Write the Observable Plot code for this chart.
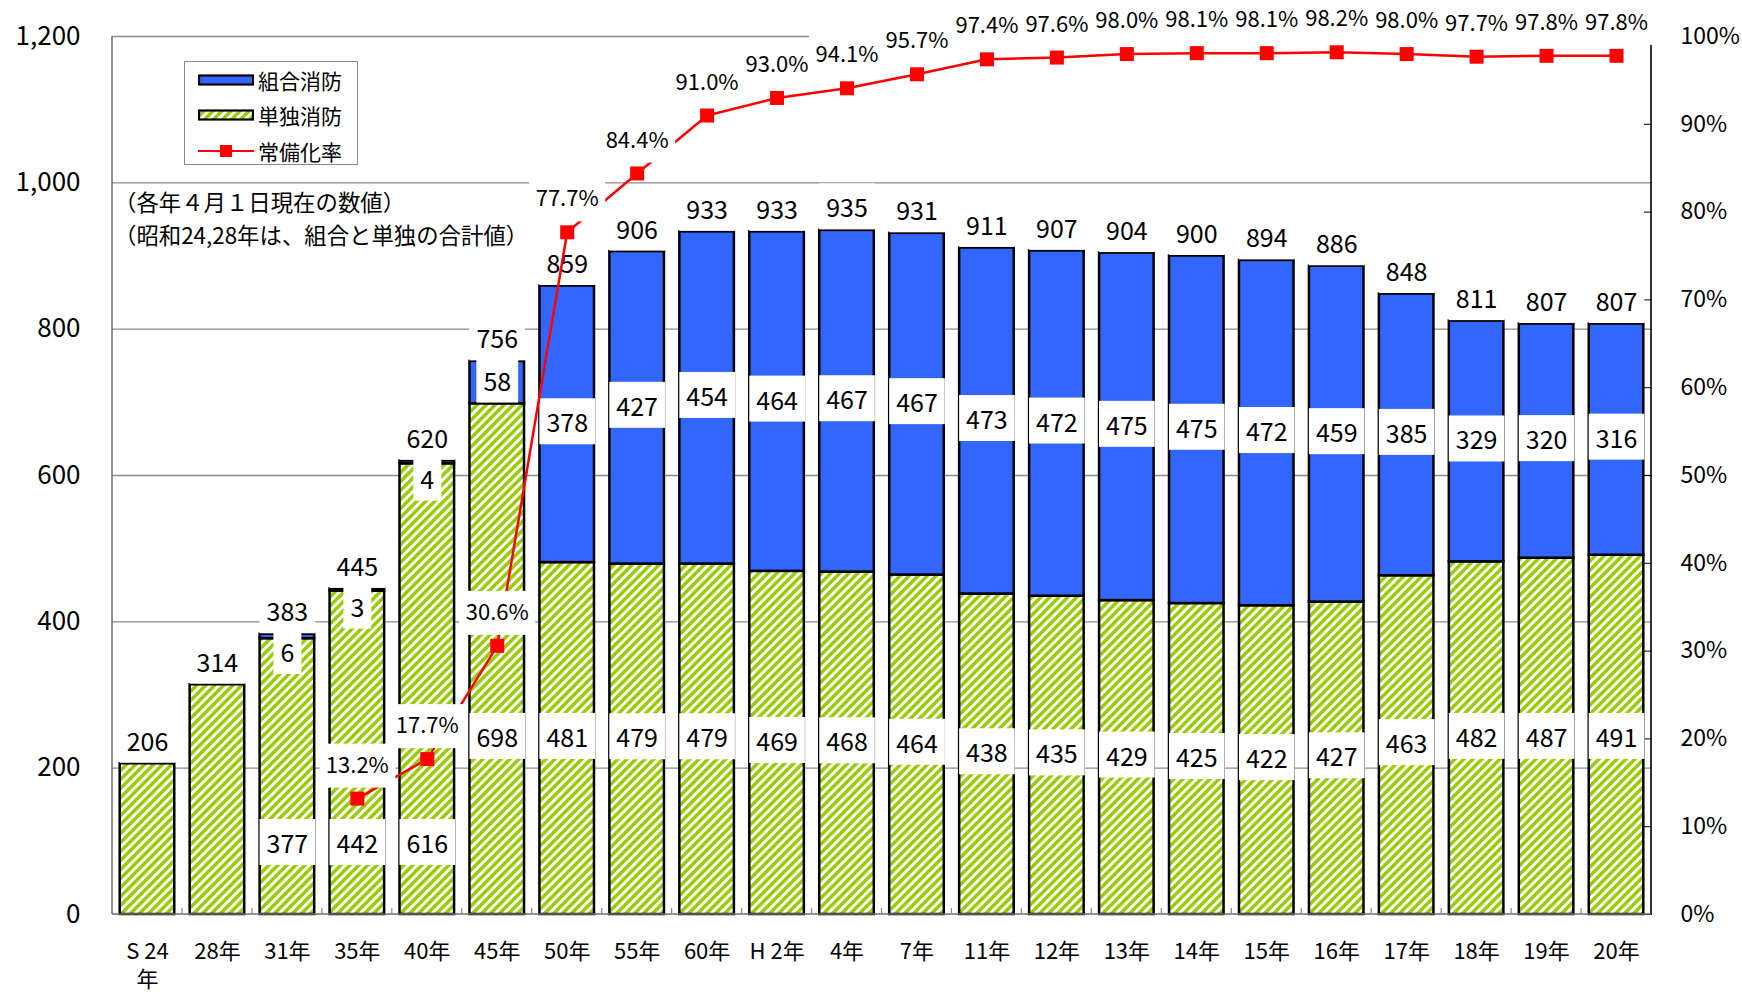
<!DOCTYPE html>
<html>
<head>
<meta charset="utf-8">
<script src="https://cdn.jsdelivr.net/npm/d3@7"></script>
<script src="https://cdn.jsdelivr.net/npm/@observablehq/plot@0.6"></script>
<style>
  html, body { margin: 0; padding: 0; background: #fff; }
  body { font-family: "Noto Sans CJK JP", sans-serif; color: #000; }
  #wrap { position: relative; width: 1742px; height: 995px; overflow: hidden; }
  #legend { position: absolute; left: 184px; top: 61px; width: 172px; height: 102px;
            border: 1px solid #8a8a8a; background: #fff; }
  #legend .row { position: absolute; left: 13px; height: 30px; display: flex; align-items: center; }
  #legend .row span { font-size: 21px; margin-left: 4px; line-height: 30px; }
  .note { position: absolute; left: 114px; font-size: 22.4px; line-height: 32px; white-space: nowrap; }
</style>
</head>
<body>
<div id="wrap"></div>
<script>
// ---------------- data ----------------
const categories = ["S 24年","28年","31年","35年","40年","45年","50年","55年","60年","H 2年","4年","7年","11年","12年","13年","14年","15年","16年","17年","18年","19年","20年"];
const tickLabels = ["S 24\n年","28年","31年","35年","40年","45年","50年","55年","60年","H 2年","4年","7年","11年","12年","13年","14年","15年","16年","17年","18年","19年","20年"];
const tandoku = [206, 314, 377, 442, 616, 698, 481, 479, 479, 469, 468, 464, 438, 435, 429, 425, 422, 427, 463, 482, 487, 491];
const kumiai  = [0, 0, 6, 3, 4, 58, 378, 427, 454, 464, 467, 467, 473, 472, 475, 475, 472, 459, 385, 329, 320, 316];
const totals  = [206, 314, 383, 445, 620, 756, 859, 906, 933, 933, 935, 931, 911, 907, 904, 900, 894, 886, 848, 811, 807, 807];
const rates   = [null, null, null, 13.2, 17.7, 30.6, 77.7, 84.4, 91.0, 93.0, 94.1, 95.7, 97.4, 97.6, 98.0, 98.1, 98.1, 98.2, 98.0, 97.7, 97.8, 97.8];
const leftTicks  = [0, 200, 400, 600, 800, 1000, 1200];
const rightTicks = [0, 10, 20, 30, 40, 50, 60, 70, 80, 90, 100];
const seriesNames = ["組合消防", "単独消防", "常備化率"];
const notes = ["（各年４月１日現在の数値）", "（昭和24,28年は、組合と単独の合計値）"];

// ---------------- derived table ----------------
const YMAX = 1200;                 // left axis max; right axis 100% maps onto it
const rateToY = r => r * YMAX / 100;
const data = categories.map((c, i) => ({
  cat: c, tick: tickLabels[i], tandoku: tandoku[i], kumiai: kumiai[i], total: totals[i], rate: rates[i]
}));
const withK = data.filter(d => d.kumiai > 0);
const withR = data.filter(d => d.rate != null);

const BLUE = "#3366ff", GREEN = "#99cc00", RED = "#ff0000";
const FONT = '"Noto Sans CJK JP", sans-serif';

// pattern definitions (rendered inside the plot SVG)
function defsMark() {
  const g = d3.create("svg:g");
  const p = 9;
  const pat = g.append("defs").append("pattern")
    .attr("id", "hatch").attr("patternUnits", "userSpaceOnUse")
    .attr("width", p).attr("height", p);
  pat.append("rect").attr("width", p).attr("height", p).attr("fill", "#fff");
  pat.append("path")
    .attr("d", `M${-p/2},${p/2}L${p/2},${-p/2}M0,${p}L${p},0M${p/2},${p*1.5}L${p*1.5},${p/2}`)
    .attr("stroke", GREEN).attr("stroke-width", 3.4);
  return g.node();
}

// axis lines + category separator ticks, positioned through the scales
function frameLines(index, scales, values, dims) {
  const g = d3.create("svg:g");
  const xl = dims.marginLeft, xr = dims.width - dims.marginRight;
  const y0 = scales.y(0), yTop = scales.y(YMAX);
  g.append("line").attr("x1", xl).attr("x2", xl).attr("y1", y0).attr("y2", yTop)
    .attr("stroke", "#6e6e6e").attr("stroke-width", 1.5);
  g.append("line").attr("x1", xr).attr("x2", xr).attr("y1", y0).attr("y2", yTop)
    .attr("stroke", "#000").attr("stroke-width", 1.6);
  g.append("line").attr("x1", xl).attr("x2", xr).attr("y1", y0).attr("y2", y0)
    .attr("stroke", "#6e6e6e").attr("stroke-width", 1.5);
  const bw = scales.x.bandwidth(), step = scales.x.step();
  categories.slice(1).forEach(c => {
    const bx = scales.x(c) - (step - bw) / 2;
    g.append("line").attr("x1", bx).attr("x2", bx).attr("y1", y0).attr("y2", y0 - 6)
      .attr("stroke", "#8a8a8a").attr("stroke-width", 1.2);
  });
  return g.node();
}

const chart = Plot.plot({
  width: 1742,
  height: 995,
  marginLeft: 112,
  marginRight: 91,
  marginTop: 36,
  marginBottom: 81,
  style: { fontFamily: FONT, background: "#fff", overflow: "visible", color: "#000" },
  x: { domain: categories, paddingInner: 0.22, paddingOuter: 0.11, round: false, label: null },
  y: { domain: [0, YMAX], label: null },
  marks: [
    defsMark,
    Plot.ruleY(leftTicks.filter(d => d > 0), { stroke: "#8c8c8c", strokeWidth: 1.3 }),
    Plot.axisY({ ticks: leftTicks, tickFormat: d3.format(","), tickSize: 0, tickPadding: 32, fontSize: 26, label: null }),
    Plot.axisY({ anchor: "right", ticks: rightTicks.map(rateToY), tickFormat: d => Math.round(d * 100 / YMAX) + "%",
                 tickSize: -8, tickPadding: 37, fontSize: 23, label: null }),
    Plot.axisX({ tickSize: 0, tickPadding: 24, fontSize: 22, lineHeight: 1.3,
                 tickFormat: d => tickLabels[categories.indexOf(d)], label: null }),
    Plot.barY(data, { x: "cat", y1: 0, y2: "tandoku", fill: "url(#hatch)", stroke: "#000", strokeWidth: 2.5 }),
    Plot.barY(withK, { x: "cat", y1: "tandoku", y2: "total", fill: BLUE, stroke: "#000", strokeWidth: 2.5 }),
    frameLines,
    // total labels
    Plot.text(data, { x: "cat", y: "total", text: d => String(d.total), dy: -21, fontSize: 25,
                      fill: "#000", className: "boxlbl" }),
    // 組合 segment labels
    Plot.text(withK, { x: "cat", y: d => Math.min((d.tandoku + d.total) / 2, d.total - 27),
                       text: d => String(d.kumiai), fontSize: 25, fill: "#000", className: "boxlbl" }),
    // 単独 segment labels
    Plot.text(withK, { x: "cat", y: d => d.kumiai < 10 ? 95 : Math.min(d.tandoku / 2, 240),
                       text: d => String(d.tandoku), fontSize: 25, fill: "#000", className: "boxlbl" }),
    // rate line
    Plot.line(withR, { x: "cat", y: d => rateToY(d.rate), stroke: RED, strokeWidth: 2.5 }),
    Plot.dot(withR, { x: "cat", y: d => rateToY(d.rate), symbol: "square", r: 7.9, fill: RED, stroke: "none" }),
    Plot.text(withR, { x: "cat", y: d => rateToY(d.rate), dy: -33, text: d => d.rate.toFixed(1) + "%",
                       fontSize: 22, fill: "#000", className: "boxrate" })
  ]
});

const wrap = document.getElementById("wrap");
wrap.appendChild(chart);

// white label boxes behind label texts
function boxify(sel, padX, padTop, padBottom) {
  chart.querySelectorAll(sel).forEach(g => {
    g.querySelectorAll("text").forEach(t => {
      const b = t.getBBox();
      const r = document.createElementNS("http://www.w3.org/2000/svg", "rect");
      r.setAttribute("x", b.x - padX);
      r.setAttribute("y", b.y - padTop);
      r.setAttribute("width", b.width + 2 * padX);
      r.setAttribute("height", b.height + padTop + padBottom);
      r.setAttribute("fill", "#fff");
      r.setAttribute("stroke", "none");
      const tr = t.getAttribute("transform");
      if (tr) r.setAttribute("transform", tr);
      g.insertBefore(r, t);
    });
  });
}
boxify("g.boxlbl", 7, 5, 5);
boxify("g.boxrate", 6.5, 3, 9);

// legend
const legend = document.createElement("div");
legend.id = "legend";
const rowsTop = [3, 38, 74];
const swatches = [
  `<svg width="56" height="14"><rect x="1" y="2.5" width="54" height="9" fill="${BLUE}" stroke="#000" stroke-width="2.2"/></svg>`,
  `<svg width="56" height="14"><defs><pattern id="hatchL" patternUnits="userSpaceOnUse" width="9" height="9"><rect width="9" height="9" fill="#fff"/><path d="M-4.5,4.5L4.5,-4.5M0,9L9,0M4.5,13.5L13.5,4.5" stroke="${GREEN}" stroke-width="3.4"/></pattern></defs><rect x="1" y="2.5" width="54" height="9" fill="url(#hatchL)" stroke="#000" stroke-width="2.2"/></svg>`,
  `<svg width="56" height="14"><line x1="0" x2="56" y1="7" y2="7" stroke="${RED}" stroke-width="2.2"/><rect x="22" y="1" width="12" height="12" fill="${RED}"/></svg>`
];
seriesNames.forEach((name, i) => {
  const row = document.createElement("div");
  row.className = "row";
  row.style.top = rowsTop[i] + "px";
  row.innerHTML = swatches[i] + `<span>${name}</span>`;
  legend.appendChild(row);
});
wrap.appendChild(legend);

// notes
notes.forEach((txt, i) => {
  const n = document.createElement("div");
  n.className = "note";
  n.style.top = (185 + i * 33) + "px";
  n.textContent = txt;
  wrap.appendChild(n);
});
</script>
</body>
</html>
